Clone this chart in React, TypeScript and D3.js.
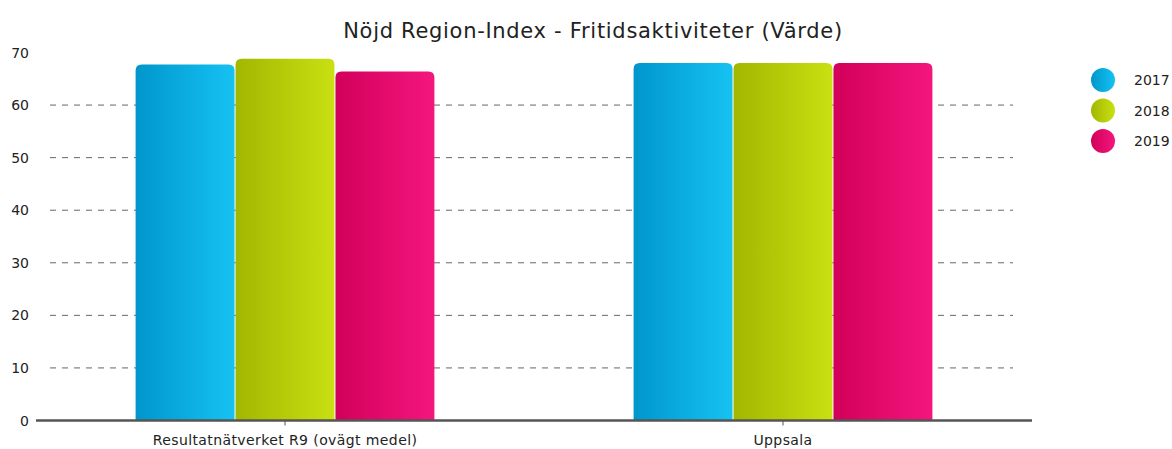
import React from "react";
import * as d3 from "d3";

const title = "Nöjd Region-Index - Fritidsaktiviteter (Värde)";
const categories = ["Resultatnätverket R9 (ovägt medel)", "Uppsala"];
const seriesNames = ["2017", "2018", "2019"];
const values2017 = [67.7, 68.0];
const values2018 = [68.8, 68.0];
const values2019 = [66.4, 68.0];
const yTicks = [0, 10, 20, 30, 40, 50, 60, 70];
const gradients = [
  ["#0096cc", "#16c2f2"],
  ["#a2b700", "#c9e012"],
  ["#d2005a", "#f4167e"],
];

const W = 1172, H = 449;
const m = { left: 36, right: 140, top: 52.5, bottom: 28.5 };
const font = "'DejaVu Sans', Verdana, sans-serif";

function topRounded(x: number, y: number, w: number, h: number, r: number) {
  return `M${x},${y + h}V${y + r}Q${x},${y} ${x + r},${y}H${x + w - r}Q${x + w},${y} ${x + w},${y + r}V${y + h}Z`;
}

export default function App() {
  const series = [values2017, values2018, values2019];
  const x0 = d3.scaleBand().domain(categories).range([m.left, W - m.right]).paddingInner(0.4).paddingOuter(0.2);
  const x1 = d3.scaleBand().domain(seriesNames).range([0, x0.bandwidth()]).paddingInner(0.01);
  const y = d3.scaleLinear().domain([0, 70]).range([H - m.bottom, m.top]);
  return (
    <svg width={W} height={H} style={{ position: "absolute", left: 0, top: 0 }}>
      <defs>
        {gradients.map((g, i) => (
          <linearGradient key={i} id={`g${i}`} x1="0" x2="1" y1="0" y2="0">
            <stop offset="0" stopColor={g[0]} />
            <stop offset="1" stopColor={g[1]} />
          </linearGradient>
        ))}
      </defs>
      <rect width={W} height={H} fill="#fff" />
      <text x={593} y={38} textAnchor="middle" fontFamily={font} fontSize={21} letterSpacing={0.7} fill="#222">{title}</text>
      {yTicks.filter(t => t > 0 && t < 70).map(t => (
        <line key={t} x1={50} x2={1013} y1={y(t)} y2={y(t)} stroke="#666" strokeWidth={1} strokeDasharray="6,6" />
      ))}
      {yTicks.map(t => (
        <text key={t} x={29} y={y(t) + 5} textAnchor="end" fontFamily={font} fontSize={14} fill="#222">{t}</text>
      ))}
      {categories.map((c, ci) => (
        <g key={c}>
          {series.map((s, si) => {
            const bx = (x0(c) as number) + (x1(seriesNames[si]) as number);
            const by = y(s[ci]);
            return <path key={si} d={topRounded(bx, by, x1.bandwidth(), y(0) - by, 6)} fill={`url(#g${si})`} />;
          })}
          <line x1={(x0(c) as number) + x0.bandwidth() / 2} x2={(x0(c) as number) + x0.bandwidth() / 2} y1={y(0)} y2={y(0) + 5} stroke="#555" strokeWidth={1} />
          <text x={(x0(c) as number) + x0.bandwidth() / 2} y={y(0) + 24} textAnchor="middle" fontFamily={font} fontSize={14} letterSpacing={0.4} fill="#222">{c}</text>
        </g>
      ))}
      <line x1={36} x2={1032} y1={y(0)} y2={y(0)} stroke="#555" strokeWidth={2.5} />
      {seriesNames.map((n, i) => (
        <g key={n}>
          <circle cx={1103} cy={80 + i * 30.5} r={12} fill={`url(#g${i})`} />
          <text x={1134} y={85 + i * 30.5} fontFamily={font} fontSize={14} fill="#222">{n}</text>
        </g>
      ))}
    </svg>
  );
}
